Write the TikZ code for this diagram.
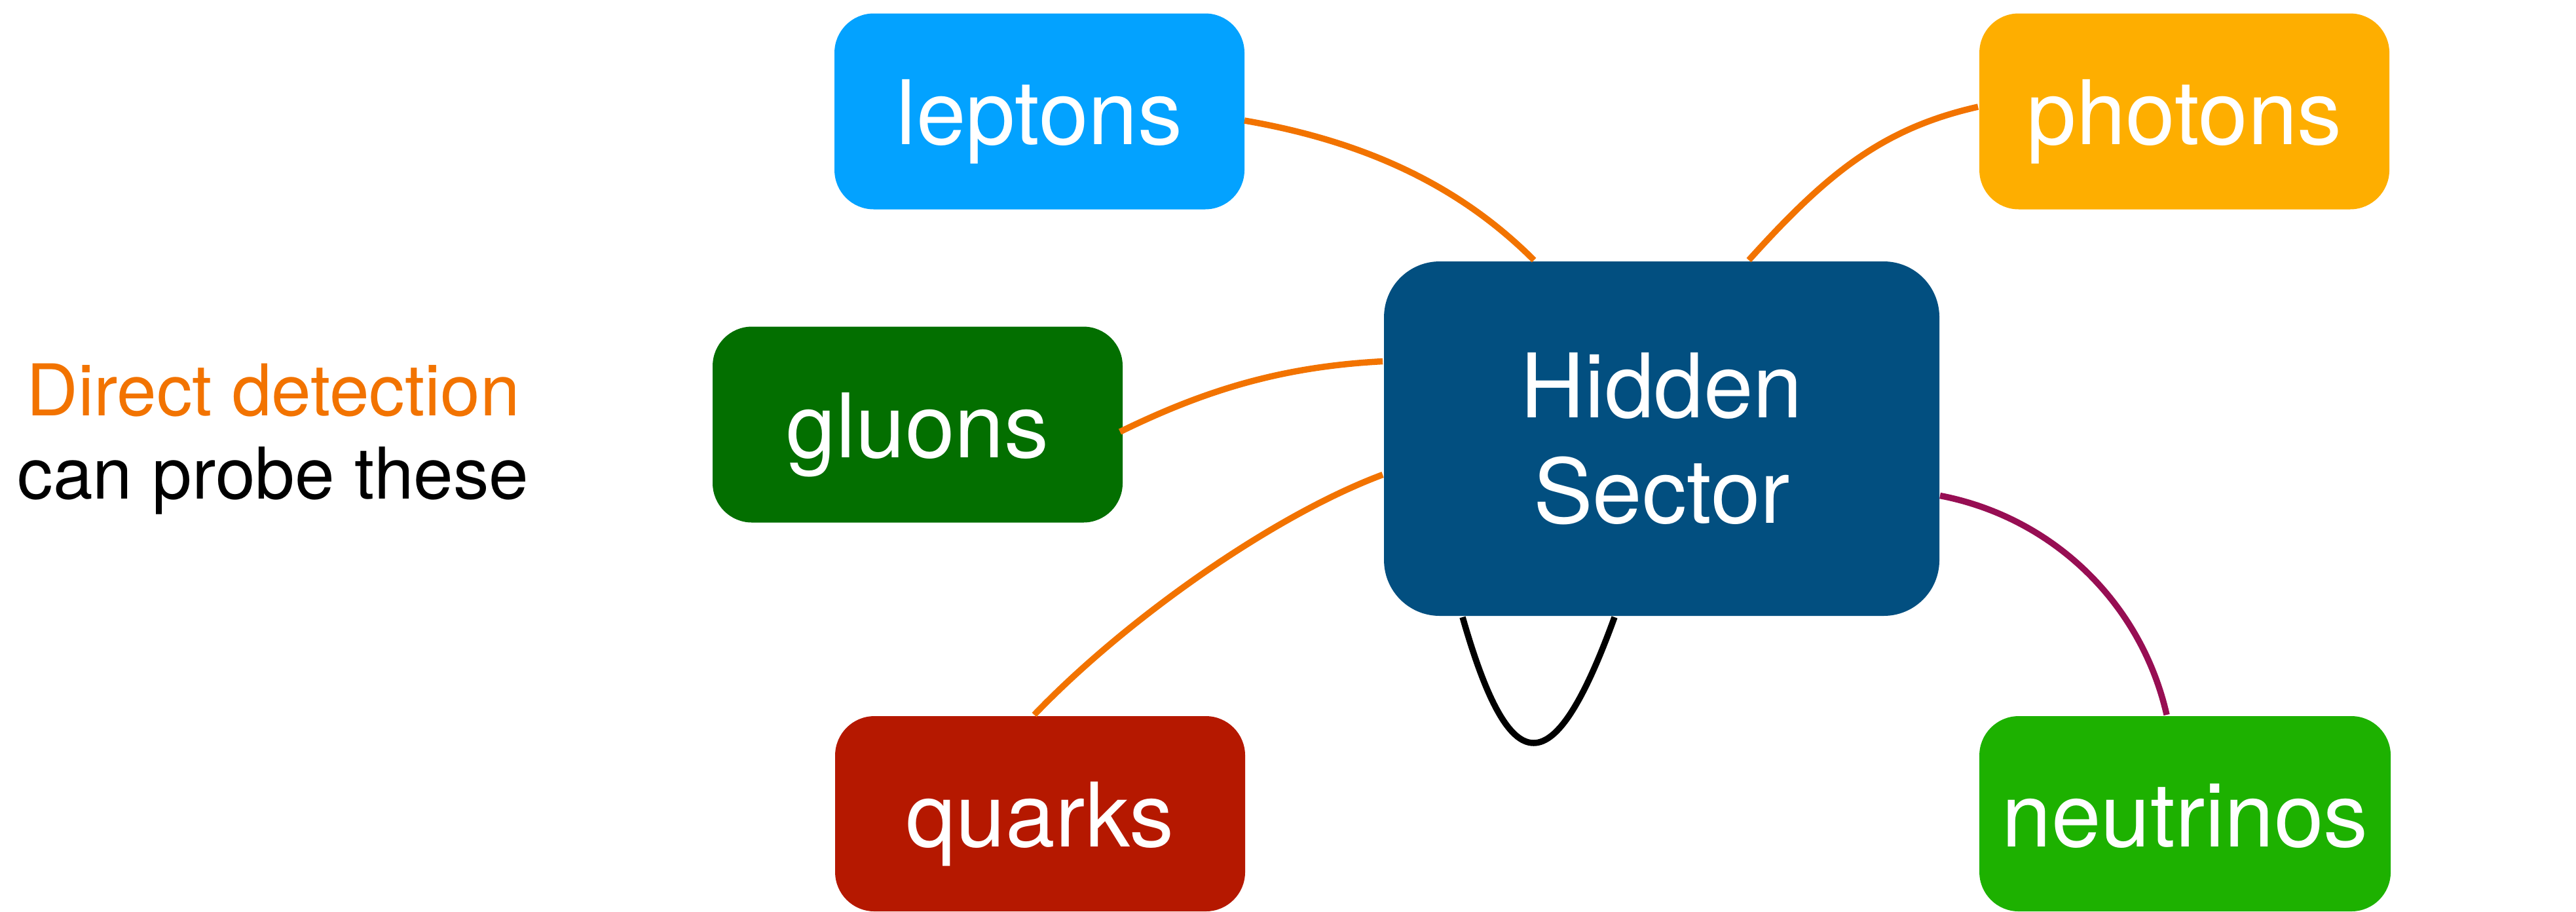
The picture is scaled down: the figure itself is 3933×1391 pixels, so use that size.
\documentclass[tikz,border=0pt]{standalone}
\usepackage{fontspec}
\setmainfont{TeX Gyre Heros}
\usetikzlibrary{calc}
\definecolor{cLept}{HTML}{03A2FF}
\definecolor{cPhot}{HTML}{FEAE00}
\definecolor{cGlu}{HTML}{036F00}
\definecolor{cHid}{HTML}{024F80}
\definecolor{cQuark}{HTML}{B51800}
\definecolor{cNeu}{HTML}{1DB100}
\definecolor{cOrange}{HTML}{F27300}
\definecolor{cPurple}{HTML}{970E53}
\tikzset{
  pbox/.style={rounded corners=6pt, inner sep=0pt, minimum width=62.6pt, minimum height=29.9pt,
    text=white, font=\fontsize{13.6}{16.1}\selectfont, text height=10pt, text depth=0pt},
  hubbox/.style={rounded corners=8.5pt, inner sep=0pt, minimum width=84.8pt, minimum height=54.1pt,
    text=white, font=\fontsize{13.6}{16.1}\selectfont, align=center, fill=cHid},
  olink/.style={line width=0.95pt, draw=cOrange},
  plink/.style={line width=0.95pt, draw=cPurple},
  klink/.style={line width=0.95pt, draw=black}
}
\begin{document}
\begin{tikzpicture}[x=0.1pt,y=-0.1pt]
\useasboundingbox (0,0) rectangle (3933,1391);

\node[pbox, fill=cLept] (leptons) at (1587,170) {leptons};
\node[pbox, fill=cPhot] (photons) at (3335,170) {photons};
\node[pbox, fill=cGlu] (gluons) at (1401,648) {gluons};
\node[pbox, fill=cQuark, minimum height=29.8pt] (quarks) at (1588,1242) {quarks};
\node[pbox, fill=cNeu, minimum width=62.8pt, minimum height=29.8pt] (neutrinos) at (3336,1242) {neutrinos};
\node[hubbox] (hidden) at (2537,669.5) {Hidden\\Sector};

\node[inner sep=0pt, align=center, font=\fontsize{10.9}{12.7}\selectfont] (dd) at (417,670)
  {\textcolor{cOrange}{Direct detection}\\can probe these};

\draw[olink] ($(leptons.east)+(-2,14)$) .. controls +(197,34) and +(-106,-106) .. ($(hidden.north)+(-195,0)$);
\draw[olink] ($(hidden.north)+(133,0)$) .. controls +(120,-133) and +(-146,33) .. ($(photons.west)+(0,-7)$);
\draw[olink] ($(gluons.east)+(-6,11)$) .. controls +(135,-66) and +(-150,8) .. ($(hidden.west)+(0,-118)$);
\draw[olink] ($(quarks.north)+(-9,0)$) .. controls +(138,-144) and +(-169,63) .. ($(hidden.west)+(0,55)$);
\draw[plink] ($(hidden.east)+(-1,87)$) .. controls +(172,33) and +(-39,-171) .. ($(neutrinos.north)+(-28,0)$);
\draw[klink] ($(hidden.south)+(-304,0)$) .. controls +(73,256) and +(-93,256) .. ($(hidden.south)+(-72,0)$);
\end{tikzpicture}
\end{document}
